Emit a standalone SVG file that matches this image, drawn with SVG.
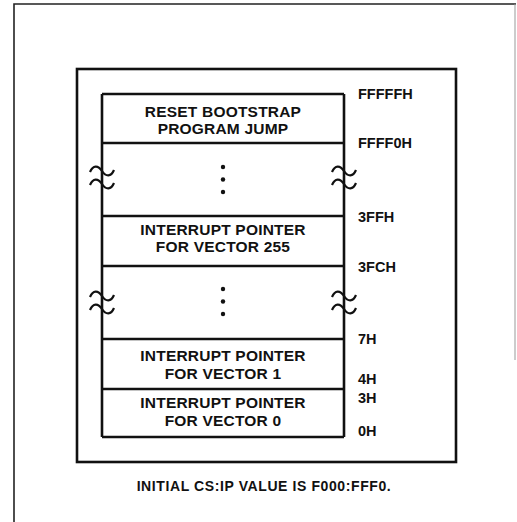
<svg xmlns="http://www.w3.org/2000/svg" width="517" height="522" viewBox="0 0 517 522">
<style>
.t{font-family:"Liberation Sans",Arial,sans-serif;font-weight:bold;fill:#111;}
.box{font-size:15.5px;text-anchor:middle;letter-spacing:0.2px;}
.lbl{font-size:14.5px;}
.cap{font-size:14px;text-anchor:middle;letter-spacing:0.6px;}
.ln{stroke:#111;stroke-width:2.6;fill:none;}
.tl{stroke:#111;stroke-width:2.2;fill:none;}
</style>
<defs>
<path id="tilde" d="M-12,1 C-9,-6 -4,-6 0,0 S9,6 12,-1" class="tl"/>
</defs>
<rect width="517" height="522" fill="#fff"/>
<g id="frame">
<path d="M14,522 V4 H516" stroke="#222" stroke-width="1.6" fill="none"/>
<path d="M515,4 V360" stroke="#999" stroke-width="1" fill="none"/>
<rect x="77" y="69" width="379" height="393" class="ln"/>
</g>
<g id="connectors">
<path d="M102,94 V437 M344,94 V437" class="ln"/>
<use href="#tilde" x="102" y="171"/>
<use href="#tilde" x="102" y="184"/>
<use href="#tilde" x="344" y="171"/>
<use href="#tilde" x="344" y="184"/>
<use href="#tilde" x="102" y="296"/>
<use href="#tilde" x="102" y="309"/>
<use href="#tilde" x="344" y="296"/>
<use href="#tilde" x="344" y="309"/>
</g>
<g id="reset">
<path d="M102,94 H344 M102,143 H344" class="ln"/>
<text class="t box" x="223" y="117">RESET BOOTSTRAP</text>
<text class="t box" x="223" y="134">PROGRAM JUMP</text>
</g>
<g id="gap1">
<circle cx="223" cy="167" r="2.2" fill="#111"/>
<circle cx="223" cy="179.5" r="2.2" fill="#111"/>
<circle cx="223" cy="192" r="2.2" fill="#111"/>
</g>
<g id="vec255">
<path d="M102,216 H344 M102,266 H344" class="ln"/>
<text class="t box" x="223" y="235">INTERRUPT POINTER</text>
<text class="t box" x="223" y="252">FOR VECTOR 255</text>
</g>
<g id="gap2">
<circle cx="223" cy="289" r="2.2" fill="#111"/>
<circle cx="223" cy="301.5" r="2.2" fill="#111"/>
<circle cx="223" cy="314" r="2.2" fill="#111"/>
</g>
<g id="vec1">
<path d="M102,339 H344 M102,389 H344" class="ln"/>
<text class="t box" x="223" y="361">INTERRUPT POINTER</text>
<text class="t box" x="223" y="379">FOR VECTOR 1</text>
</g>
<g id="vec0">
<path d="M102,437 H344" class="ln"/>
<text class="t box" x="223" y="408">INTERRUPT POINTER</text>
<text class="t box" x="223" y="426">FOR VECTOR 0</text>
</g>
<g id="labels">
<text class="t lbl" x="358" y="99">FFFFFH</text>
<text class="t lbl" x="358" y="148">FFFF0H</text>
<text class="t lbl" x="358" y="222">3FFH</text>
<text class="t lbl" x="358" y="272">3FCH</text>
<text class="t lbl" x="358" y="344">7H</text>
<text class="t lbl" x="358" y="384">4H</text>
<text class="t lbl" x="358" y="403">3H</text>
<text class="t lbl" x="358" y="436">0H</text>
</g>
<g id="caption">
<text class="t cap" x="264" y="491">INITIAL CS:IP VALUE IS F000:FFF0.</text>
</g>
</svg>
